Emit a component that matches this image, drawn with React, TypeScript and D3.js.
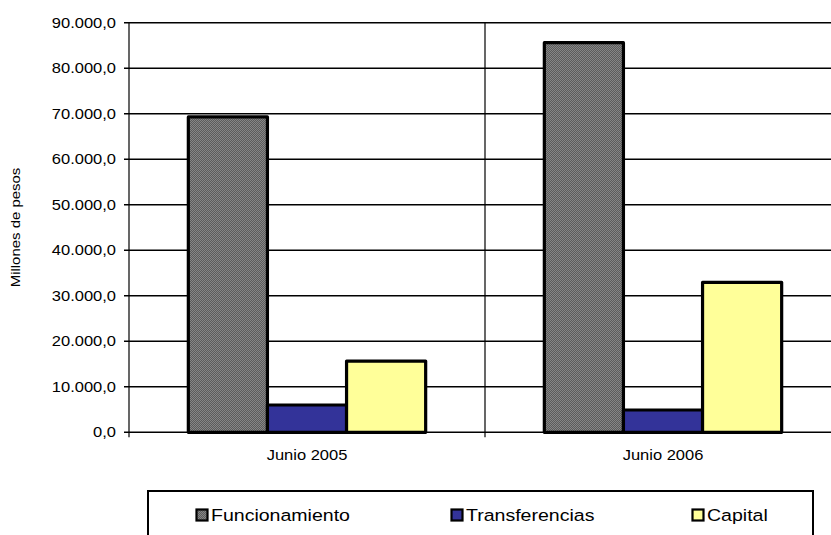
import React from "react";
import * as d3 from "d3";

const categories = ["Junio 2005", "Junio 2006"];
const seriesNames = ["Funcionamiento", "Transferencias", "Capital"];
const funcionamiento = [69300, 85600];
const transferencias = [6000, 4900];
const capital = [15650, 32950];
const yTicks = [0, 10000, 20000, 30000, 40000, 50000, 60000, 70000, 80000, 90000];
const yTickLabels = ["0,0", "10.000,0", "20.000,0", "30.000,0", "40.000,0", "50.000,0", "60.000,0", "70.000,0", "80.000,0", "90.000,0"];

const W = 831, H = 535;
const left = 129, right = 841, top = 22.7, bottom = 432.3;
const FONT = "'Liberation Sans', Arial, sans-serif";

function T({ x, y, anchor = "start", size, sx = 1.1, children, rotate = 0 }: any) {
  return (
    <text
      transform={`translate(${x},${y}) rotate(${rotate}) scale(${sx},1)`}
      textAnchor={anchor}
      fontFamily={FONT}
      fontSize={size}
      fill="#000"
    >
      {children}
    </text>
  );
}

export default function App() {
  const x0 = d3.scaleBand().domain(categories).range([left, right]).paddingInner(0).paddingOuter(0);
  const bw = x0.bandwidth() / 4.5;
  const y = d3.scaleLinear().domain([0, 90000]).range([bottom, top]);
  const series = [funcionamiento, transferencias, capital];
  const fills = ["url(#grayPat)", "#333399", "#FFFF99"];
  const swatchX = [196.5, 451.5, 692.5];

  return (
    <svg width={W} height={H} style={{ position: "absolute", left: 0, top: 0 }}>
      <defs>
        <pattern id="grayPat" width="2" height="2" patternUnits="userSpaceOnUse">
          <rect width="2" height="2" fill="#5c5c5c" />
          <rect width="1" height="1" fill="#868686" />
          <rect x="1" y="1" width="1" height="1" fill="#868686" />
        </pattern>
      </defs>
      <rect width={W} height={H} fill="#fff" />
      {yTicks.map((t) => (
        <line key={t} x1={left - 5} x2={right} y1={y(t)} y2={y(t)} stroke="#000" strokeWidth={1.6} />
      ))}
      <line x1={left} x2={left} y1={top} y2={bottom + 5} stroke="#000" strokeWidth={1.2} />
      {categories.map((c) => (
        <line key={c} x1={(x0(c) as number) + x0.bandwidth()} x2={(x0(c) as number) + x0.bandwidth()} y1={top} y2={bottom + 5} stroke="#000" strokeWidth={1.2} />
      ))}
      {yTicks.map((t, i) => (
        <T key={t} x={116} y={y(t) + 5} anchor="end" size={15}>
          {yTickLabels[i]}
        </T>
      ))}
      <T x={20} y={(top + bottom) / 2} anchor="middle" size={13} sx={1.15} rotate={-90}>
        Millones de pesos
      </T>
      {categories.map((c, ci) => {
        const start = (x0(c) as number) + 0.75 * bw;
        return series.map((s, si) => (
          <rect key={c + si} x={start + si * bw} y={y(s[ci])} width={bw} height={bottom - y(s[ci])} fill={fills[si]} stroke="#000" strokeWidth={3.2} strokeLinejoin="round" />
        ));
      })}
      {categories.map((c) => (
        <T key={c} x={(x0(c) as number) + x0.bandwidth() / 2} y={460} anchor="middle" size={15}>
          {c}
        </T>
      ))}
      <rect x={148} y={491} width={665} height={60} fill="#fff" stroke="#000" strokeWidth={2} />
      {seriesNames.map((n, i) => (
        <g key={n}>
          <rect x={swatchX[i]} y={509.5} width={11} height={11} fill={fills[i]} stroke="#000" strokeWidth={2.2} />
          <T x={swatchX[i] + 14.5} y={520.5} size={17} sx={1.15}>{n}</T>
        </g>
      ))}
    </svg>
  );
}
